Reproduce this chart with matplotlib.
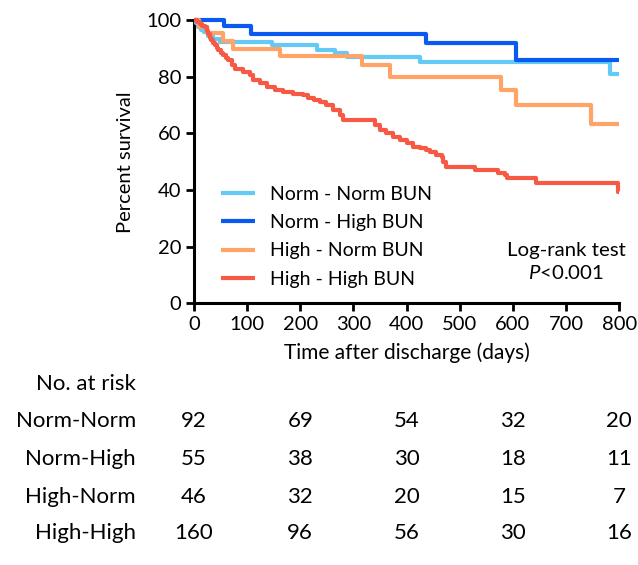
import matplotlib
matplotlib.use("Agg")
import matplotlib.pyplot as plt
import matplotlib.transforms as mtransforms

plt.rcParams['font.family'] = ['Lato', 'DejaVu Sans']
plt.rcParams['mathtext.fontset'] = 'custom'
plt.rcParams['mathtext.it'] = 'Lato:italic'
plt.rcParams['mathtext.rm'] = 'Lato'

# ---- data ----
nn_t = [0, 3, 8, 13, 18, 27, 36, 49, 147, 231, 265, 287, 425, 782, 800]
nn_s = [100, 98.9, 97.8, 96.7, 95.7, 94.6, 93.5, 92.4, 91.3, 89.6, 88.5, 87.1, 85.3, 80.9, 80.9]

nh_t = [0, 57, 107, 437, 606, 800]
nh_s = [100, 97.9, 95.3, 91.8, 86.1, 86.1]

hn_t = [0, 10, 25, 55, 74, 162, 317, 368, 578, 606, 747, 800]
hn_s = [100, 97.8, 95.4, 92.7, 90.0, 87.4, 84.1, 80.0, 75.3, 70.2, 63.2, 63.2]

hh_t = [0, 5, 11, 16, 21, 24, 27, 30, 33, 36, 39, 43, 46, 51, 55, 60, 64, 71, 77,
        93, 105, 111, 124, 137, 152, 168, 187, 205, 215, 226, 237, 249, 262, 274,
        281, 341, 350, 362, 375, 387, 400, 412, 425, 437, 444, 456, 466, 469, 475,
        528, 572, 585, 589, 644, 798, 800]
hh_s = [100, 99.4, 98.8, 98.1, 97.5, 96.3, 95.0, 93.8, 92.9, 92.0, 91.2, 90.3, 89.4,
        88.5, 87.6, 86.8, 85.9, 84.2, 82.9, 81.8, 80.6, 78.8, 77.7, 76.5, 75.3, 74.7,
        74.1, 73.5, 72.4, 71.8, 71.2, 70.0, 68.2, 66.5, 64.9, 62.9, 61.2, 60.0, 58.8,
        57.6, 56.5, 55.3, 54.7, 54.1, 53.5, 52.3, 51.7, 50.0, 48.2, 47.1, 45.9, 45.3,
        44.1, 42.4, 39.4, 39.4]

series_labels = ["Norm - Norm BUN", "Norm - High BUN", "High - Norm BUN", "High - High BUN"]
series_colors = ["#63C9F7", "#0A5AF2", "#FFA466", "#F65A45"]

risk_groups = ["Norm-Norm", "Norm-High", "High-Norm", "High-High"]
risk_times = [0, 200, 400, 600, 800]
risk_counts = [
    [92, 69, 54, 32, 20],
    [55, 38, 30, 18, 11],
    [46, 32, 20, 15, 7],
    [160, 96, 56, 30, 16],
]

x_ticks = [0, 100, 200, 300, 400, 500, 600, 700, 800]
y_ticks = [0, 20, 40, 60, 80, 100]

# ---- figure ----
fig = plt.figure(figsize=(6.38, 5.65), dpi=100)
ax = fig.add_axes([0.304, 0.4632, 0.6666, 0.5009])

series = [(nn_t, nn_s), (nh_t, nh_s), (hn_t, hn_s), (hh_t, hh_s)]
order = [0, 2, 1, 3]
handles = [None] * 4
for i in order:
    t, s = series[i]
    ln, = ax.plot(t, s, drawstyle='steps-post', color=series_colors[i], lw=3.0,
                  solid_capstyle='butt', clip_on=False, zorder=3 + i)
    handles[i] = ln

ax.set_xlim(0, 800)
ax.set_ylim(0, 100)
ax.set_xticks(x_ticks)
ax.set_yticks(y_ticks)
for sp in ['top', 'right']:
    ax.spines[sp].set_visible(False)
for sp in ['left', 'bottom']:
    ax.spines[sp].set_linewidth(2.2)
    ax.spines[sp].set_color('black')
ax.tick_params(axis='both', length=6, width=2.0, labelsize=14.5, color='black', pad=3)

ax.set_xlabel("Time after discharge (days)", fontsize=15, labelpad=7)
ax.set_ylabel("Percent survival", fontsize=14.5, labelpad=9)

leg = ax.legend(handles, series_labels, loc='lower left', bbox_to_anchor=(0.063, 0.055),
                frameon=False, fontsize=14, handlelength=1.75, handletextpad=0.8,
                labelspacing=0.58, borderpad=0, borderaxespad=0)

ax.text(0.875, 0.188, "Log-rank test", transform=ax.transAxes, ha='center', va='center',
        fontsize=14.7)
ax.text(0.875, 0.106, "$P$<0.001", transform=ax.transAxes, ha='center', va='center',
        fontsize=14.7)

# ---- number at risk table ----
trans = mtransforms.blended_transform_factory(ax.transData, fig.transFigure)
row_y = [0.254, 0.187, 0.121, 0.056]
fig.text(0.213, 0.320, "No. at risk", ha='right', va='center', fontsize=16)
for g, yy, counts in zip(risk_groups, row_y, risk_counts):
    fig.text(0.213, yy, g, ha='right', va='center', fontsize=16)
    for tt, c in zip(risk_times, counts):
        ax.text(tt, yy, str(c), transform=trans, ha='center', va='center', fontsize=16,
                clip_on=False)

fig.savefig("out.png", dpi=100)
